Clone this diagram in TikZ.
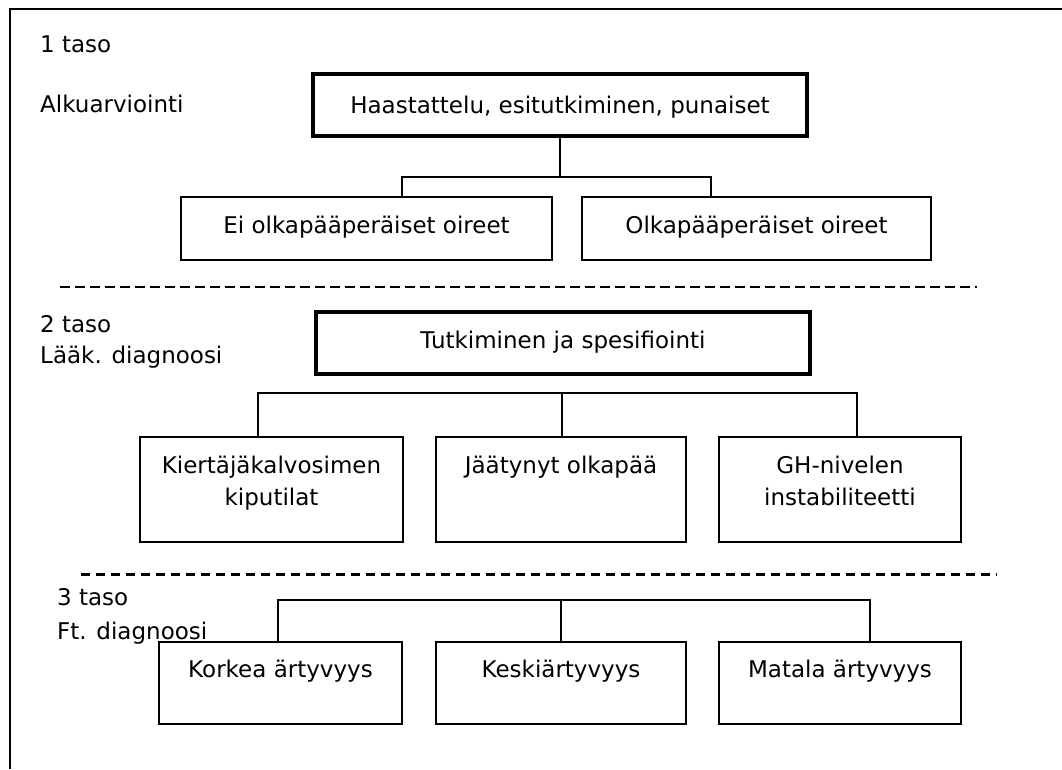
\documentclass[tikz,border=0pt]{standalone}
\usepackage{fontspec}
\setmainfont{DejaVu Sans}
\begin{document}
\begin{tikzpicture}[x=1pt,y=-1pt,
  font=\fontsize{23}{32}\selectfont,
  box/.style={draw, line width=2pt, inner sep=0pt},
  keybox/.style={box, line width=3.5pt},
  link/.style={line width=1.5pt},
  sepline/.style={line width=2pt, dash pattern=on 10pt off 5pt},
  septhick/.style={line width=3pt, dash pattern=on 9pt off 6pt},
  lbl/.style={anchor=base west, inner sep=0pt},
  txt/.style={anchor=base, inner sep=0pt}]
\useasboundingbox (0,0) rectangle (1062,769);

% open frame: top and left edges only
\coordinate (fbl) at (10,769);
\coordinate (ftl) at (10,9);
\coordinate (ftr) at (1062,9);
\draw[line width=2pt] (fbl) -- (ftl) -- (ftr);

% ---------- level 1 ----------
\node[lbl] (l1a) at (40,52) {1 taso};
\node[lbl] (l1b) at (40,112) {Alkuarviointi};

\node[keybox, minimum width=494pt, minimum height=62pt] (haas) at (560,105) {};
\node[txt] (haast) at (560,113) {Haastattelu, esitutkiminen, punaiset};

\node[box, minimum width=371pt, minimum height=63pt] (ei) at (366.5,228.5) {};
\node[txt] (eit) at (366.5,233) {Ei olkapääperäiset oireet};
\node[box, minimum width=349pt, minimum height=63pt] (olka) at (756.5,228.5) {};
\node[txt] (olkat) at (756.5,233) {Olkapääperäiset oireet};

\coordinate (b1l) at (402,177);
\coordinate (b1r) at (711,177);
\draw[link] (haas.south) -- (haas.south |- b1l);
\draw[link] (b1l |- ei.north) -- (b1l) -- (b1r) -- (b1r |- olka.north);

% separator 1
\coordinate (s1a) at (60,287);
\coordinate (s1b) at (977,287);
\draw[sepline] (s1a) -- (s1b);

% ---------- level 2 ----------
\node[lbl] (l2a) at (40,332) {2 taso};
\node[lbl] (l2b) at (40,363) {Lääk. diagnoosi};

\node[keybox, minimum width=494pt, minimum height=62pt] (tutk) at (563,343) {};
\node[txt] (tutkt) at (563,348) {Tutkiminen ja spesifiointi};

\node[box, minimum width=263pt, minimum height=105pt] (kier) at (271.5,489.5) {};
\node[txt] (kiert1) at (271.5,473) {Kiertäjäkalvosimen};
\node[txt] (kiert2) at (271.5,505) {kiputilat};
\node[box, minimum width=250pt, minimum height=105pt] (jaat) at (561,489.5) {};
\node[txt] (jaatt) at (561,473) {Jäätynyt olkapää};
\node[box, minimum width=242pt, minimum height=105pt] (gh) at (840,489.5) {};
\node[txt] (ght1) at (840,473) {GH-nivelen};
\node[txt] (ght2) at (840,505) {instabiliteetti};

\coordinate (b2l) at (258,393);
\coordinate (b2m) at (562,393);
\coordinate (b2r) at (857,393);
\draw[link] (b2l |- kier.north) -- (b2l) -- (b2r) -- (b2r |- gh.north);
\draw[link] (b2m) -- (b2m |- jaat.north);

% separator 2
\coordinate (s2a) at (81,574);
\coordinate (s2b) at (997,574);
\draw[septhick] (s2a) -- (s2b);

% ---------- level 3 ----------
\node[lbl] (l3a) at (57,605) {3 taso};
\node[lbl] (l3b) at (57,639) {Ft. diagnoosi};

\node[box, minimum width=243pt, minimum height=82pt] (kork) at (280.5,683) {};
\node[txt] (korkt) at (280.5,677) {Korkea ärtyvyys};
\node[box, minimum width=250pt, minimum height=82pt] (kesk) at (561,683) {};
\node[txt] (keskt) at (561,677) {Keskiärtyvyys};
\node[box, minimum width=242pt, minimum height=82pt] (mata) at (840,683) {};
\node[txt] (matat) at (840,677) {Matala ärtyvyys};

\coordinate (b3l) at (278,600);
\coordinate (b3m) at (561,600);
\coordinate (b3r) at (870,600);
\draw[link] (b3l |- kork.north) -- (b3l) -- (b3r) -- (b3r |- mata.north);
\draw[link] (b3m) -- (b3m |- kesk.north);
\end{tikzpicture}
\end{document}
